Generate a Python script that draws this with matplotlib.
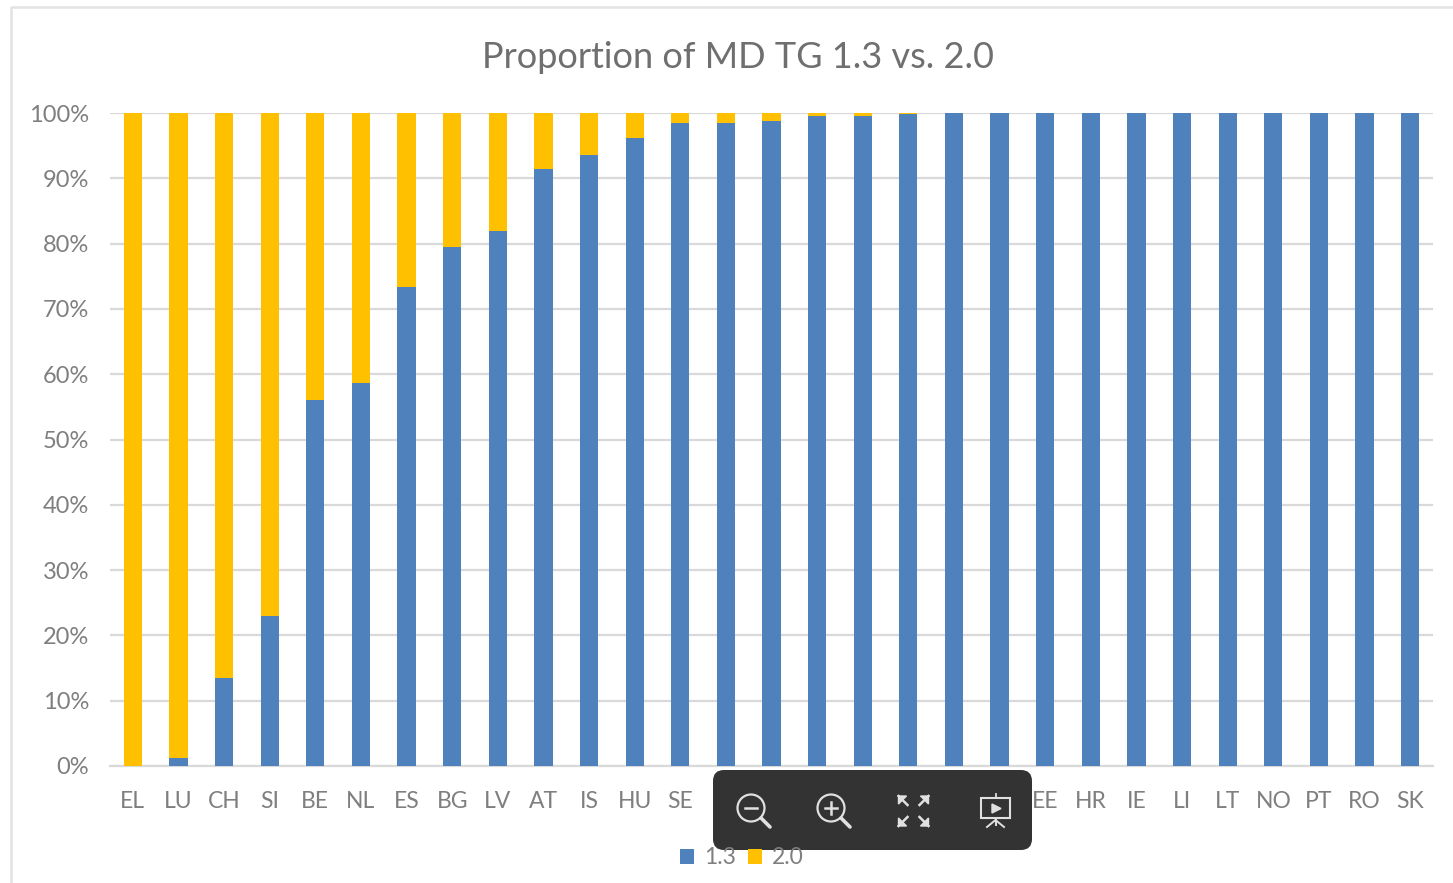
import matplotlib

matplotlib.use("Agg")

import matplotlib.pyplot as plt
from matplotlib.patches import Circle, FancyBboxPatch, Rectangle

plt.rcParams["font.family"] = ["Lato", "DejaVu Sans"]

WIDTH, HEIGHT = 1453, 883
GREY = "#7f7f7f"
BLUE = "#4f81bd"
GOLD = "#ffc000"

# labels under the toolbar can't be read, left blank
countries = ["EL", "LU", "CH", "SI", "BE", "NL", "ES", "BG", "LV", "AT", "IS", "HU", "SE",
             "", "", "", "", "", "", "",
             "EE", "HR", "IE", "LI", "LT", "NO", "PT", "RO", "SK"]
share_13 = [0, 1.2, 13.5, 23, 56, 58.7, 73.4, 79.5, 82, 91.4, 93.6, 96.2, 98.5,
            98.5, 98.8, 99.5, 99.6, 99.8, 100, 100,
            100, 100, 100, 100, 100, 100, 100, 100, 100]
share_20 = [100 - v for v in share_13]


def draw_toolbar(fig):
    # overlay axes in pixel coordinates for the viewer toolbar
    ov = fig.add_axes([0, 0, 1, 1], zorder=5)
    ov.set_xlim(0, WIDTH)
    ov.set_ylim(HEIGHT, 0)
    ov.axis("off")
    ov.patch.set_alpha(0)

    ov.add_patch(FancyBboxPatch((713, 770), 319, 80, boxstyle="round,pad=0,rounding_size=11",
                                fc="#333333", ec="none"))

    icon = "#e0e0e0"
    for cx, plus in [(751, False), (831, True)]:
        ov.add_patch(Circle((cx, 808), 13.5, fc="none", ec=icon, lw=1.6))
        ov.plot([cx + 10, cx + 19], [818, 827], color=icon, lw=2.6, solid_capstyle="round")
        ov.plot([cx - 6, cx + 6], [808, 808], color=icon, lw=1.8)
        if plus:
            ov.plot([cx, cx], [802, 814], color=icon, lw=1.8)

    # fullscreen arrows
    for sx, sy in [(-1, -1), (1, -1), (-1, 1), (1, 1)]:
        tip_x, tip_y = 913.5 + sx * 15, 811 + sy * 15
        ov.plot([tip_x, tip_x - sx * 9], [tip_y, tip_y - sy * 9], color=icon, lw=1.8)
        ov.fill([tip_x, tip_x - sx * 8, tip_x], [tip_y, tip_y, tip_y - sy * 8], color=icon)

    # presentation screen
    ov.add_patch(Rectangle((981, 798), 29, 20, fc="none", ec=icon, lw=1.5))
    ov.plot([995.5, 995.5], [794, 798], color=icon, lw=1.3)
    ov.fill([992, 992, 1001], [804, 813, 808.5], color=icon)
    ov.plot([987, 995.5, 1004], [827, 820, 827], color=icon, lw=1.4)
    ov.plot([995.5, 995.5], [818, 825], color=icon, lw=1.4)


def main():
    fig = plt.figure(figsize=(WIDTH / 100, HEIGHT / 100), dpi=100)
    ax = fig.add_axes([110 / WIDTH, 1 - 766 / HEIGHT, 1323 / WIDTH, 653 / HEIGHT])

    positions = range(len(countries))
    ax.bar(positions, share_13, width=0.4, color=BLUE, label="1.3", zorder=3)
    ax.bar(positions, share_20, width=0.4, bottom=share_13, color=GOLD, label="2.0", zorder=3)

    ax.set_xlim(-0.5, len(countries) - 0.5)
    ax.set_ylim(0, 100)
    ax.set_yticks(range(0, 101, 10))
    ax.set_yticklabels([f"{v}%" for v in range(0, 101, 10)], fontsize=17, color=GREY)
    ax.set_xticks(list(positions))
    ax.set_xticklabels(countries, fontsize=16.5, color=GREY)
    ax.tick_params(axis="both", length=0)
    ax.tick_params(axis="x", pad=18)
    ax.tick_params(axis="y", pad=15)
    ax.grid(axis="y", color="#d9d9d9", lw=1.6, zorder=0)
    ax.set_axisbelow(True)
    for side in ["top", "right", "left"]:
        ax.spines[side].set_visible(False)
    ax.spines["bottom"].set_color("#d9d9d9")
    ax.spines["bottom"].set_linewidth(1.6)

    fig.text(738 / WIDTH, 1 - 57 / HEIGHT, "Proportion of MD TG 1.3 vs. 2.0", fontsize=26,
             color="#6f6f6f", ha="center", va="center")

    fig.legend(loc="center", bbox_to_anchor=(742 / WIDTH, 1 - 858 / HEIGHT), ncol=2, frameon=False,
               fontsize=16.5, labelcolor=GREY, handlelength=0.62, handleheight=0.62,
               handletextpad=0.42, columnspacing=0.53)

    # chart frame, cropped on the right and at the bottom
    fig.add_artist(plt.Line2D([11 / WIDTH, 11 / WIDTH, 1], [0, 1 - 7 / HEIGHT, 1 - 7 / HEIGHT],
                              color="#e3e3e3", lw=1.8))

    draw_toolbar(fig)
    fig.savefig("out.png", dpi=100)
    plt.close(fig)


main()
